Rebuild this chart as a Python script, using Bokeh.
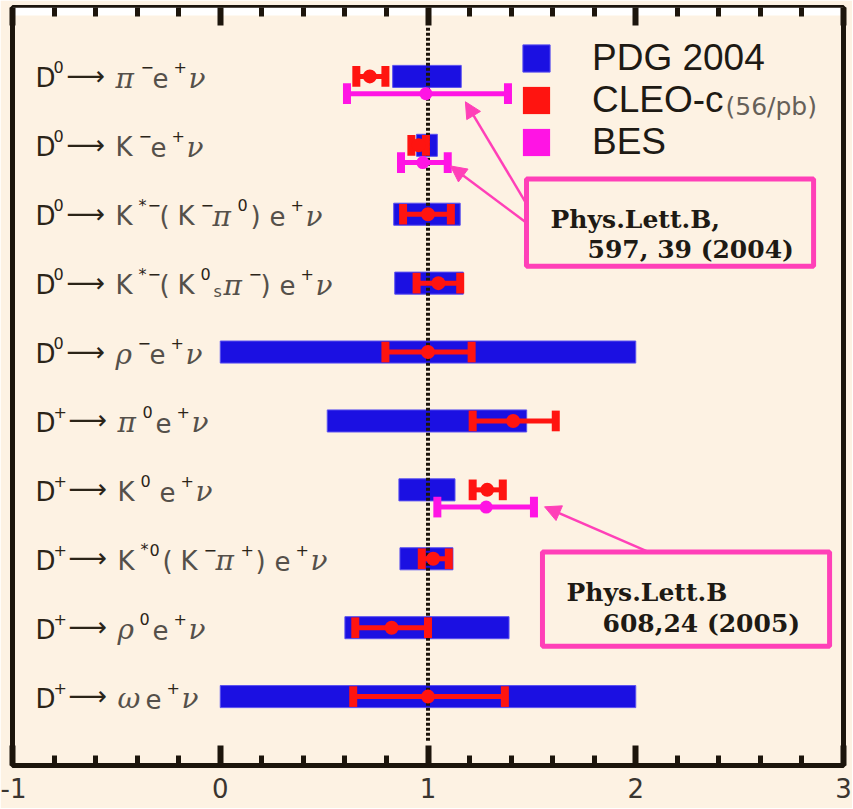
from bokeh.plotting import figure
from bokeh.models import (ColumnDataSource, Legend, LegendItem, Label, Arrow, NormalHead,
                          BoxAnnotation, LinearAxis, FixedTicker, Range1d)
from bokeh.core.properties import value
from bokeh.embed import file_html
from bokeh.resources import INLINE

# ---------------- data ----------------
decays = ["D⁰→ π⁻e⁺ν", "D⁰→ K⁻e⁺ν", "D⁰→ K*⁻(K⁻π⁰)e⁺ν", "D⁰→ K*⁻(K⁰ₛπ⁻)e⁺ν",
          "D⁰→ ρ⁻e⁺ν", "D⁺→ π⁰e⁺ν", "D⁺→ K⁰ e⁺ν", "D⁺→ K*⁰(K⁻π⁺)e⁺ν",
          "D⁺→ ρ⁰e⁺ν", "D⁺→ ωe⁺ν"]
rows = [10, 9, 8, 7, 6, 5, 4, 3, 2, 1]

pdg_lo = [0.83, 0.945, 0.835, 0.84, 0.0, 0.515, 0.86, 0.865, 0.60, 0.0]
pdg_hi = [1.16, 1.045, 1.155, 1.17, 2.0, 1.475, 1.13, 1.12, 1.39, 2.0]

cleo_val = [0.72, 0.955, 1.0, 1.05, 1.0, 1.41, 1.285, 1.025, 0.825, 1.0]
cleo_lo = [0.655, 0.92, 0.88, 0.945, 0.795, 1.215, 1.215, 0.97, 0.65, 0.64]
cleo_hi = [0.795, 0.99, 1.11, 1.155, 1.21, 1.615, 1.36, 1.10, 1.0, 1.37]

bes_rows = [10, 9, 4]
bes_val = [0.99, 0.975, 1.28]
bes_lo = [0.61, 0.87, 1.045]
bes_hi = [1.385, 1.095, 1.51]

x_ticks = [-1, 0, 1, 2, 3]
x_tick_labels = ["-1", "0", "1", "2", "3"]
ref_value = 1.0

legend_labels = ["PDG 2004", "CLEO-c", "BES"]
cleo_lumi = "(56/pb)"
ref1 = ["Phys.Lett.B,", "597, 39 (2004)"]
ref2 = ["Phys.Lett.B", "608,24 (2005)"]

# ---------------- style ----------------
BG = "#FDF2E3"
AX = "#1C150C"
BLUE = "#1B10E2"
RED = "#FF1410"
MAG = "#FF14E4"
PINK = "#FF40B8"
BES_SHIFT = -0.25
BAR_H = 0.32
CAP_H = 0.30

p = figure(width=852, height=808, x_range=Range1d(-1, 3), y_range=Range1d(0, 11),
           output_backend="svg", toolbar_location=None, y_axis_location=None,
           min_border_left=12, min_border_right=9, min_border_top=7, min_border_bottom=43,
           background_fill_color=BG, border_fill_color=BG)
p.grid.grid_line_color = None
p.outline_line_color = AX
p.outline_line_width = 5

minor = [round(a + 0.2 * k, 1) for a in x_ticks[:-1] for k in range(1, 5)]
ticker = FixedTicker(ticks=x_ticks, minor_ticks=minor)

xa = p.xaxis[0]
xa.ticker = ticker
xa.major_label_overrides = {t: s for t, s in zip(x_ticks, x_tick_labels)}
xa.axis_line_color = None
xa.major_tick_in = 20
xa.major_tick_out = 0
xa.minor_tick_in = 10
xa.minor_tick_out = 0
xa.major_tick_line_width = 6
xa.minor_tick_line_width = 5
xa.major_tick_line_color = AX
xa.minor_tick_line_color = AX
xa.major_label_text_font = "DejaVu Sans"
xa.major_label_text_font_size = "26px"
xa.major_label_text_color = "#3a3530"
xa.major_label_standoff = 12

top = LinearAxis(ticker=ticker, axis_line_color=None, major_tick_in=18, major_tick_out=0,
                 minor_tick_in=9, minor_tick_out=0, major_tick_line_width=6,
                 minor_tick_line_width=5, major_tick_line_color=AX, minor_tick_line_color=AX,
                 major_label_overrides={t: "" for t in x_ticks}, major_label_standoff=0)
p.add_layout(top, "above")

# white strip under the top frame line
p.add_layout(BoxAnnotation(top=11, bottom=10.884, fill_color="white", fill_alpha=1,
                           line_color=None, level="underlay"))

# PDG bars
r_pdg = p.hbar(y=rows, left=pdg_lo, right=pdg_hi, height=BAR_H, fill_color=BLUE,
               line_color="#5a50f0", line_width=1)

# reference line
p.segment(x0=[ref_value], y0=[0.36], x1=[ref_value], y1=[10.72], line_color=AX,
          line_width=4, line_dash="3 2")

# CLEO-c
p.segment(x0=cleo_lo, y0=rows, x1=cleo_hi, y1=rows, line_color=RED, line_width=5)
r_cleo = p.rect(x=cleo_lo + cleo_hi, y=rows + rows, width=8, width_units="screen",
                height=CAP_H, fill_color=RED, line_color=None)
p.scatter(x=cleo_val, y=rows, size=14, marker="circle", fill_color=RED, line_color=None)

# BES
bes_y = [r + BES_SHIFT for r in bes_rows]
p.segment(x0=bes_lo, y0=bes_y, x1=bes_hi, y1=bes_y, line_color=MAG, line_width=5)
r_bes = p.rect(x=bes_lo + bes_hi, y=bes_y + bes_y, width=8, width_units="screen",
               height=CAP_H, fill_color=MAG, line_color=None)
p.scatter(x=bes_val, y=bes_y, size=13, marker="circle", fill_color=MAG, line_color=None)

# ---------------- decay labels (rich text composed of pieces) ----------------
LABEL_X = -0.889
SUP = {"⁰": "0", "⁺": "+", "⁻": "−", "*": "*"}
SUB = {"ₛ": "s"}
GREEK = set("πρων")
STY = {
    "dark": dict(font="DejaVu Sans", size="26px", color="#2b2418", fs="normal", dy=2),
    "norm": dict(font="DejaVu Sans", size="26px", color="#55504a", fs="normal", dy=2),
    "arrow": dict(font="DejaVu Sans", size="27px", color="#2b2418", fs="normal", dy=-1),
    "greek": dict(font="DejaVu Serif", size="28px", color="#55504a", fs="italic", dy=2),
    "sup": dict(font="DejaVu Sans", size="16px", color="#2b2418", fs="normal", dy=-9),
    "sub": dict(font="DejaVu Sans", size="16px", color="#55504a", fs="normal", dy=8),
}
ARROW_GLYPH = "⟶"
ADV = {"D": 18, "→": 43, " ": 6, "K": 23, "e": 21, "(": 18, ")": 19,
       "π": 25, "ρ": 22, "ω": 28, "ν": 24}
ADV_SUP = {"0": 13, "+": 15, "−": 12, "*": 9}
ADV_SUB = {"s": 10}

pieces = {k: dict(x=[], y=[], t=[], dx=[], dy=[]) for k in STY}
for lab, r in zip(decays, rows):
    off = 0.0
    for ch in lab:
        if ch in SUP:
            kind, t, adv = "sup", SUP[ch], ADV_SUP[SUP[ch]]
        elif ch in SUB:
            kind, t, adv = "sub", SUB[ch], ADV_SUB[SUB[ch]]
        elif ch in GREEK:
            kind, t, adv = "greek", ch, ADV[ch]
        elif ch == "→":
            kind, t, adv = "arrow", ARROW_GLYPH, ADV[ch]
        elif ch == "D":
            kind, t, adv = "dark", ch, ADV[ch]
        else:
            kind, t, adv = "norm", ch, ADV.get(ch, 12)
        if t != " ":
            d = pieces[kind]
            d["x"].append(LABEL_X)
            d["y"].append(r)
            d["t"].append(t)
            d["dx"].append(off)
            d["dy"].append(STY[kind]["dy"])
        off += adv

for kind, d in pieces.items():
    if not d["t"]:
        continue
    s = STY[kind]
    p.text(x="x", y="y", text="t", x_offset="dx", y_offset="dy",
           source=ColumnDataSource(d), text_font=value(s["font"]),
           text_font_size=value(s["size"]), text_color=s["color"],
           text_font_style=value(s["fs"]), text_baseline="alphabetic", text_align="left")

# ---------------- legend ----------------
legend = Legend(items=[LegendItem(label=legend_labels[0], renderers=[r_pdg]),
                       LegendItem(label=legend_labels[1], renderers=[r_cleo]),
                       LegendItem(label=legend_labels[2], renderers=[r_bes])],
                location=(507, 602), glyph_width=34, glyph_height=34,
                label_text_font="Liberation Sans", label_text_font_size="37px",
                label_text_color="#1e1a14", label_standoff=39, spacing=-1, padding=0,
                margin=0, border_line_color=None, background_fill_alpha=0)
p.add_layout(legend)
p.add_layout(Label(x=2.432, y=9.57, text=cleo_lumi, text_font="DejaVu Sans",
                   text_font_size="25px", text_color="#666058", text_baseline="middle"))

# ---------------- reference boxes ----------------
for (l, r_, t, b) in [(1.474, 2.856, 8.512, 7.246), (1.551, 2.933, 3.100, 1.732)]:
    p.add_layout(BoxAnnotation(left=l, right=r_, top=t, bottom=b, fill_color=None,
                               line_color=PINK, line_alpha=1, line_width=5))
for (x, y, txt) in [(1.590, 7.930, ref1[0]), (1.768, 7.494, ref1[1]),
                    (1.667, 2.517, ref2[0]), (1.840, 2.067, ref2[1])]:
    p.add_layout(Label(x=x, y=y, text=txt, text_font="DejaVu Serif", text_font_style="bold",
                       text_font_size="25px", text_color="#1e1a14",
                       text_baseline="alphabetic"))
for (x0, y0, x1, y1) in [(1.469, 8.177, 1.180, 9.632), (1.469, 7.886, 1.108, 8.701),
                         (2.061, 3.100, 1.561, 3.754)]:
    p.add_layout(Arrow(x_start=x0, y_start=y0, x_end=x1, y_end=y1, line_color=PINK,
                       line_width=2.5,
                       end=NormalHead(size=16, fill_color=PINK, line_color=PINK)))

open("out.html", "w").write(file_html(p, INLINE))
